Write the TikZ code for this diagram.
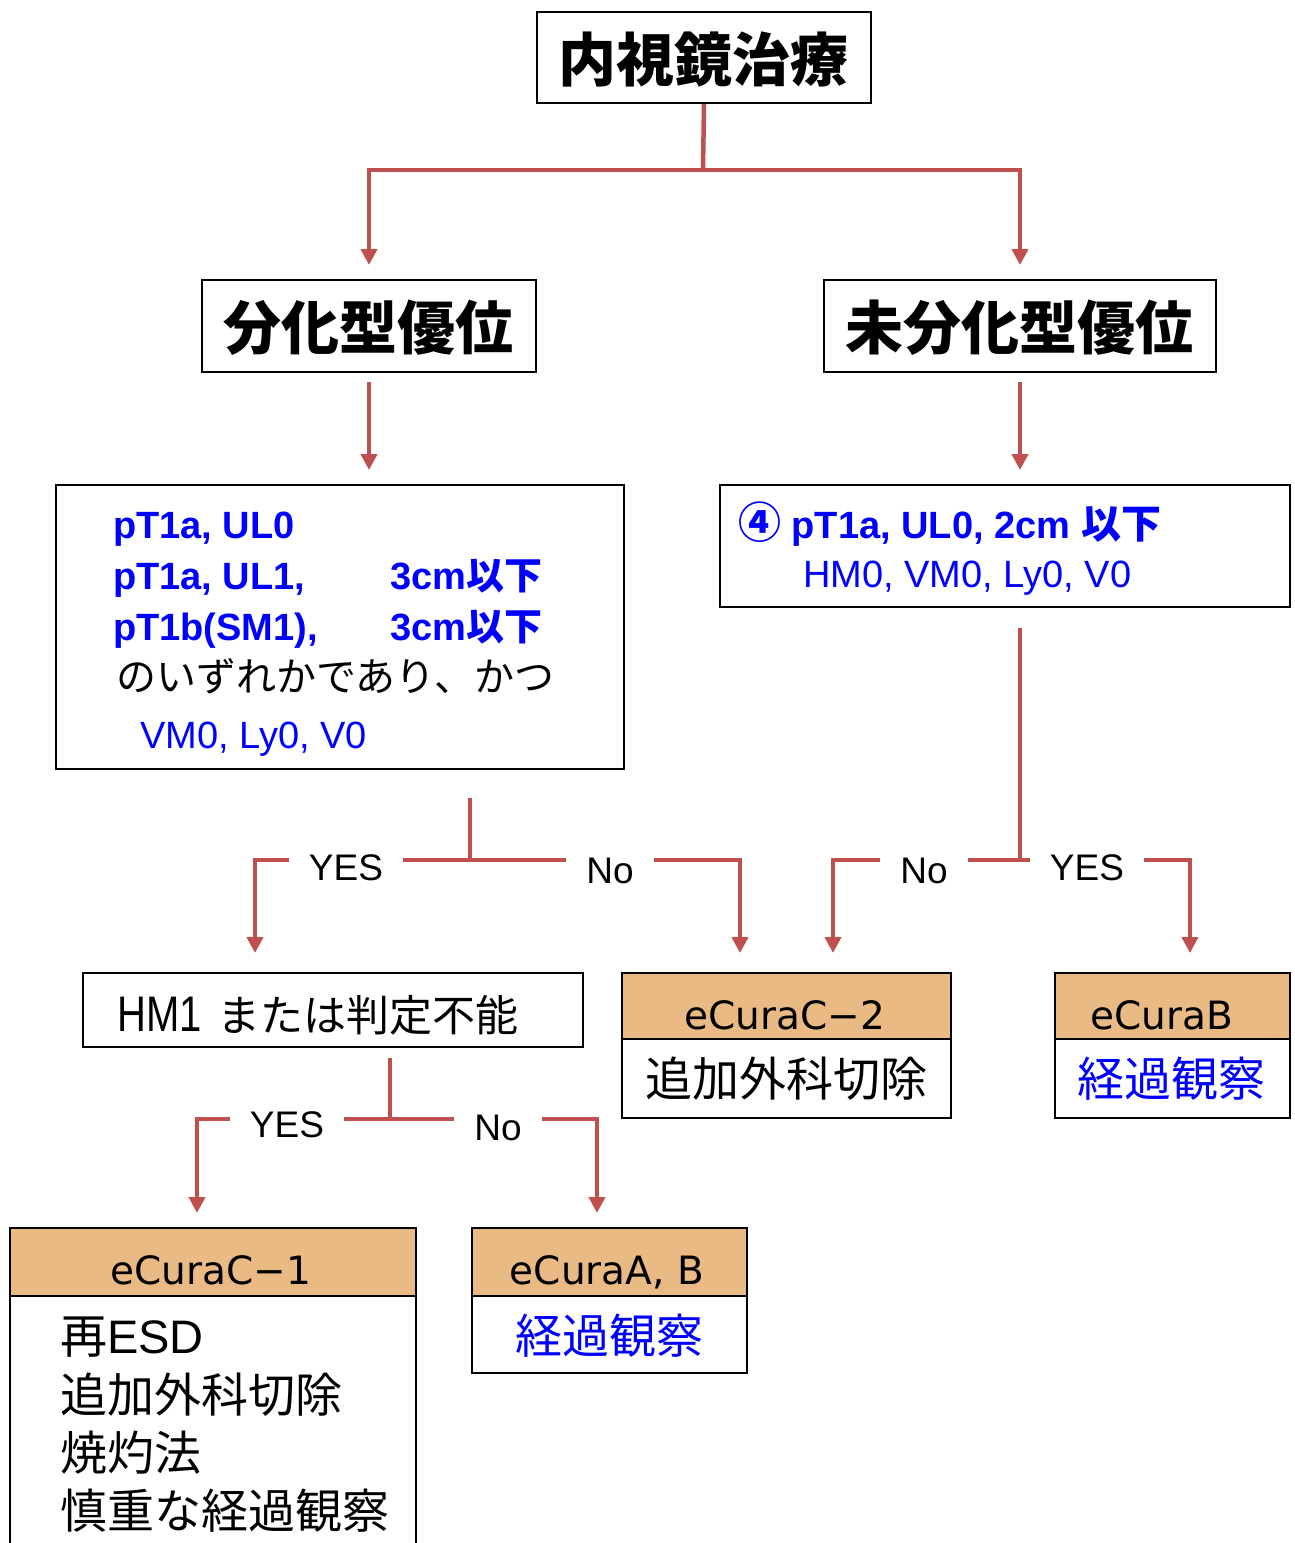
\documentclass[tikz,border=0pt]{standalone}
\usepackage{fontspec}
\setmainfont{Liberation Sans}
\newfontfamily\jp{Noto Sans CJK JP}
\newfontfamily\dv{DejaVu Sans}
\newfontfamily\narrowsans[FakeStretch=0.8]{Liberation Sans}
\usetikzlibrary{arrows.meta}
\definecolor{conred}{HTML}{C0504D}
\definecolor{hdrorange}{HTML}{E9BA84}
\definecolor{txtblue}{HTML}{0000FF}
\newcommand\fsz[1]{\fontsize{#1}{#1}\selectfont}
\begin{document}
\begin{tikzpicture}[x=1pt,y=-1pt,
  box/.style={draw=black,line width=2pt,inner sep=0pt,fill=white,anchor=north west},
  hdr/.style={draw=black,line width=2pt,fill=hdrorange,inner sep=0pt,anchor=north west},
  conn/.style={draw=conred,line width=4.5pt},
  arr/.style={-{Triangle[width=16pt,length=16pt]}},
  lbl/.style={inner xsep=20pt,inner ysep=0pt,font=\fsz{37},anchor=base},
  txt/.style={inner sep=0pt},
  bl/.style={txt,anchor=base west,text=txtblue,font=\fsz{38}},
  blb/.style={bl,font=\fsz{38}\bfseries},
  htxt/.style={txt,anchor=base,font=\dv\fsz{39}},
]
\useasboundingbox (0,0) rectangle (1295,1543);
\fill[white] (0,0) rectangle (1295,1543);

% boxes
\node[box,minimum width=334pt,minimum height=91pt] (top) at (536,11) {};
\node[txt] (toptxt) at (703,59) {\jp\bfseries\fsz{58}内視鏡治療};

\node[box,minimum width=334pt,minimum height=92pt] (bunka) at (201,279) {};
\node[txt] (bunkatxt) at (368,328) {\jp\bfseries\fsz{58}分化型優位};

\node[box,minimum width=392pt,minimum height=92pt] (mibunka) at (823,279) {};
\node[txt] (mibunkatxt) at (1019,328) {\jp\bfseries\fsz{58}未分化型優位};

\node[box,minimum width=568pt,minimum height=284pt] (crit1) at (55,484) {};
\node[blb] (c1l1) at (113,538) {pT1a, UL0};
\node[blb] (c1l2) at (113,589) {pT1a, UL1,};
\node[blb] (c1l2b) at (390,589) {3cm{\jp\bfseries 以下}};
\node[blb] (c1l3) at (113,640) {pT1b(SM1),};
\node[blb] (c1l3b) at (390,640) {3cm{\jp\bfseries 以下}};
\node[txt,anchor=west] (c1l4) at (116,676) {\jp\fsz{40}のいずれかであり、かつ};
\node[bl] (c1l5) at (140,748) {VM0, Ly0, V0};

\node[box,minimum width=570pt,minimum height=122pt] (crit2) at (719,484) {};
\node[blb] (c2l1) at (738,538) {{\jp\bfseries\fsz{43}④} pT1a, UL0, 2cm {\jp\bfseries\fsz{40}以下}};
\node[bl] (c2l2) at (803,587) {HM0, VM0, Ly0, V0};

\node[box,minimum width=500pt,minimum height=74pt] (hm1) at (82,972) {};
\node[txt,anchor=base west] (hm1a) at (117,1031) {\narrowsans\fsz{50}HM1};
\node[txt,anchor=base west] (hm1b) at (217,1031) {\jp\fsz{43}または判定不能};

\node[hdr,minimum width=329pt,minimum height=66pt] (c2h) at (621,972) {};
\node[htxt] (c2htxt) at (785,1029) {eCuraC−2};
\node[box,minimum width=329pt,minimum height=79pt] (c2b) at (621,1038) {};
\node[txt] (c2btxt) at (786,1079) {\jp\fsz{47}追加外科切除};

\node[hdr,minimum width=235pt,minimum height=66pt] (bh) at (1054,972) {};
\node[htxt] (bhtxt) at (1162,1029) {eCuraB};
\node[box,minimum width=235pt,minimum height=79pt] (bb) at (1054,1038) {};
\node[txt,text=txtblue] (bbtxt) at (1171,1079) {\jp\fsz{47}経過観察};

\node[box,minimum width=406pt,minimum height=280pt] (c1b) at (9,1295) {};
\node[hdr,minimum width=406pt,minimum height=68pt] (c1h) at (9,1227) {};
\node[htxt] (c1htxt) at (211,1284) {eCuraC−1};
\node[txt,anchor=west] (c1a) at (60,1337) {\jp\fsz{47}再{\rmfamily ESD}};
\node[txt,anchor=west] (c1c) at (60,1395) {\jp\fsz{47}追加外科切除};
\node[txt,anchor=west] (c1d) at (60,1453) {\jp\fsz{47}焼灼法};
\node[txt,anchor=west] (c1e) at (60,1511) {\jp\fsz{47}慎重な経過観察};

\node[hdr,minimum width=275pt,minimum height=68pt] (abh) at (471,1227) {};
\node[htxt] (abhtxt) at (607,1284) {eCuraA, B};
\node[box,minimum width=275pt,minimum height=77pt] (abb) at (471,1295) {};
\node[txt,text=txtblue] (abbtxt) at (609,1336) {\jp\fsz{47}経過観察};

% top connectors
\coordinate (j0) at (703,170);
\draw[conn] (top.south) -- (j0);
\draw[conn,arr,shorten >=14pt] (j0) -| (bunka.north);
\draw[conn,arr,shorten >=14pt] (j0) -| (mibunka.north);
\draw[conn,arr,shorten <=9pt,shorten >=14pt] (bunka.south) -- (bunka.south |- crit1.north);
\draw[conn,arr,shorten <=9pt,shorten >=14pt] (mibunka.south) -- (mibunka.south |- crit2.north);

% left split
\coordinate (s1) at (470,798);
\coordinate (j1) at (470,860);
\node[lbl] (yes1) at (346,880) {YES};
\node[lbl] (no1) at (610,883) {No};
\coordinate (t1) at (255,953);
\coordinate (t2) at (740,953);
\draw[conn] (s1) -- (j1);
\draw[conn] (yes1.east |- j1) -- (no1.west |- j1);
\draw[conn,arr] (yes1.west |- j1) -| (t1);
\draw[conn,arr] (no1.east |- j1) -| (t2);

% right split
\coordinate (s2) at (1020,628);
\coordinate (j2) at (1020,860);
\node[lbl] (no2) at (924,883) {No};
\node[lbl] (yes2) at (1087,880) {YES};
\coordinate (t3) at (833,953);
\coordinate (t4) at (1190,953);
\draw[conn] (s2) -- (j2);
\draw[conn] (no2.east |- j2) -- (yes2.west |- j2);
\draw[conn,arr] (no2.west |- j2) -| (t3);
\draw[conn,arr] (yes2.east |- j2) -| (t4);

% lower split
\coordinate (s3) at (390,1058);
\coordinate (j3) at (390,1119);
\node[lbl] (yes3) at (287,1137) {YES};
\node[lbl] (no3) at (498,1140) {No};
\coordinate (t5) at (197,1213);
\coordinate (t6) at (597,1213);
\draw[conn] (s3) -- (j3);
\draw[conn] (yes3.east |- j3) -- (no3.west |- j3);
\draw[conn,arr] (yes3.west |- j3) -| (t5);
\draw[conn,arr] (no3.east |- j3) -| (t6);
\end{tikzpicture}
\end{document}
